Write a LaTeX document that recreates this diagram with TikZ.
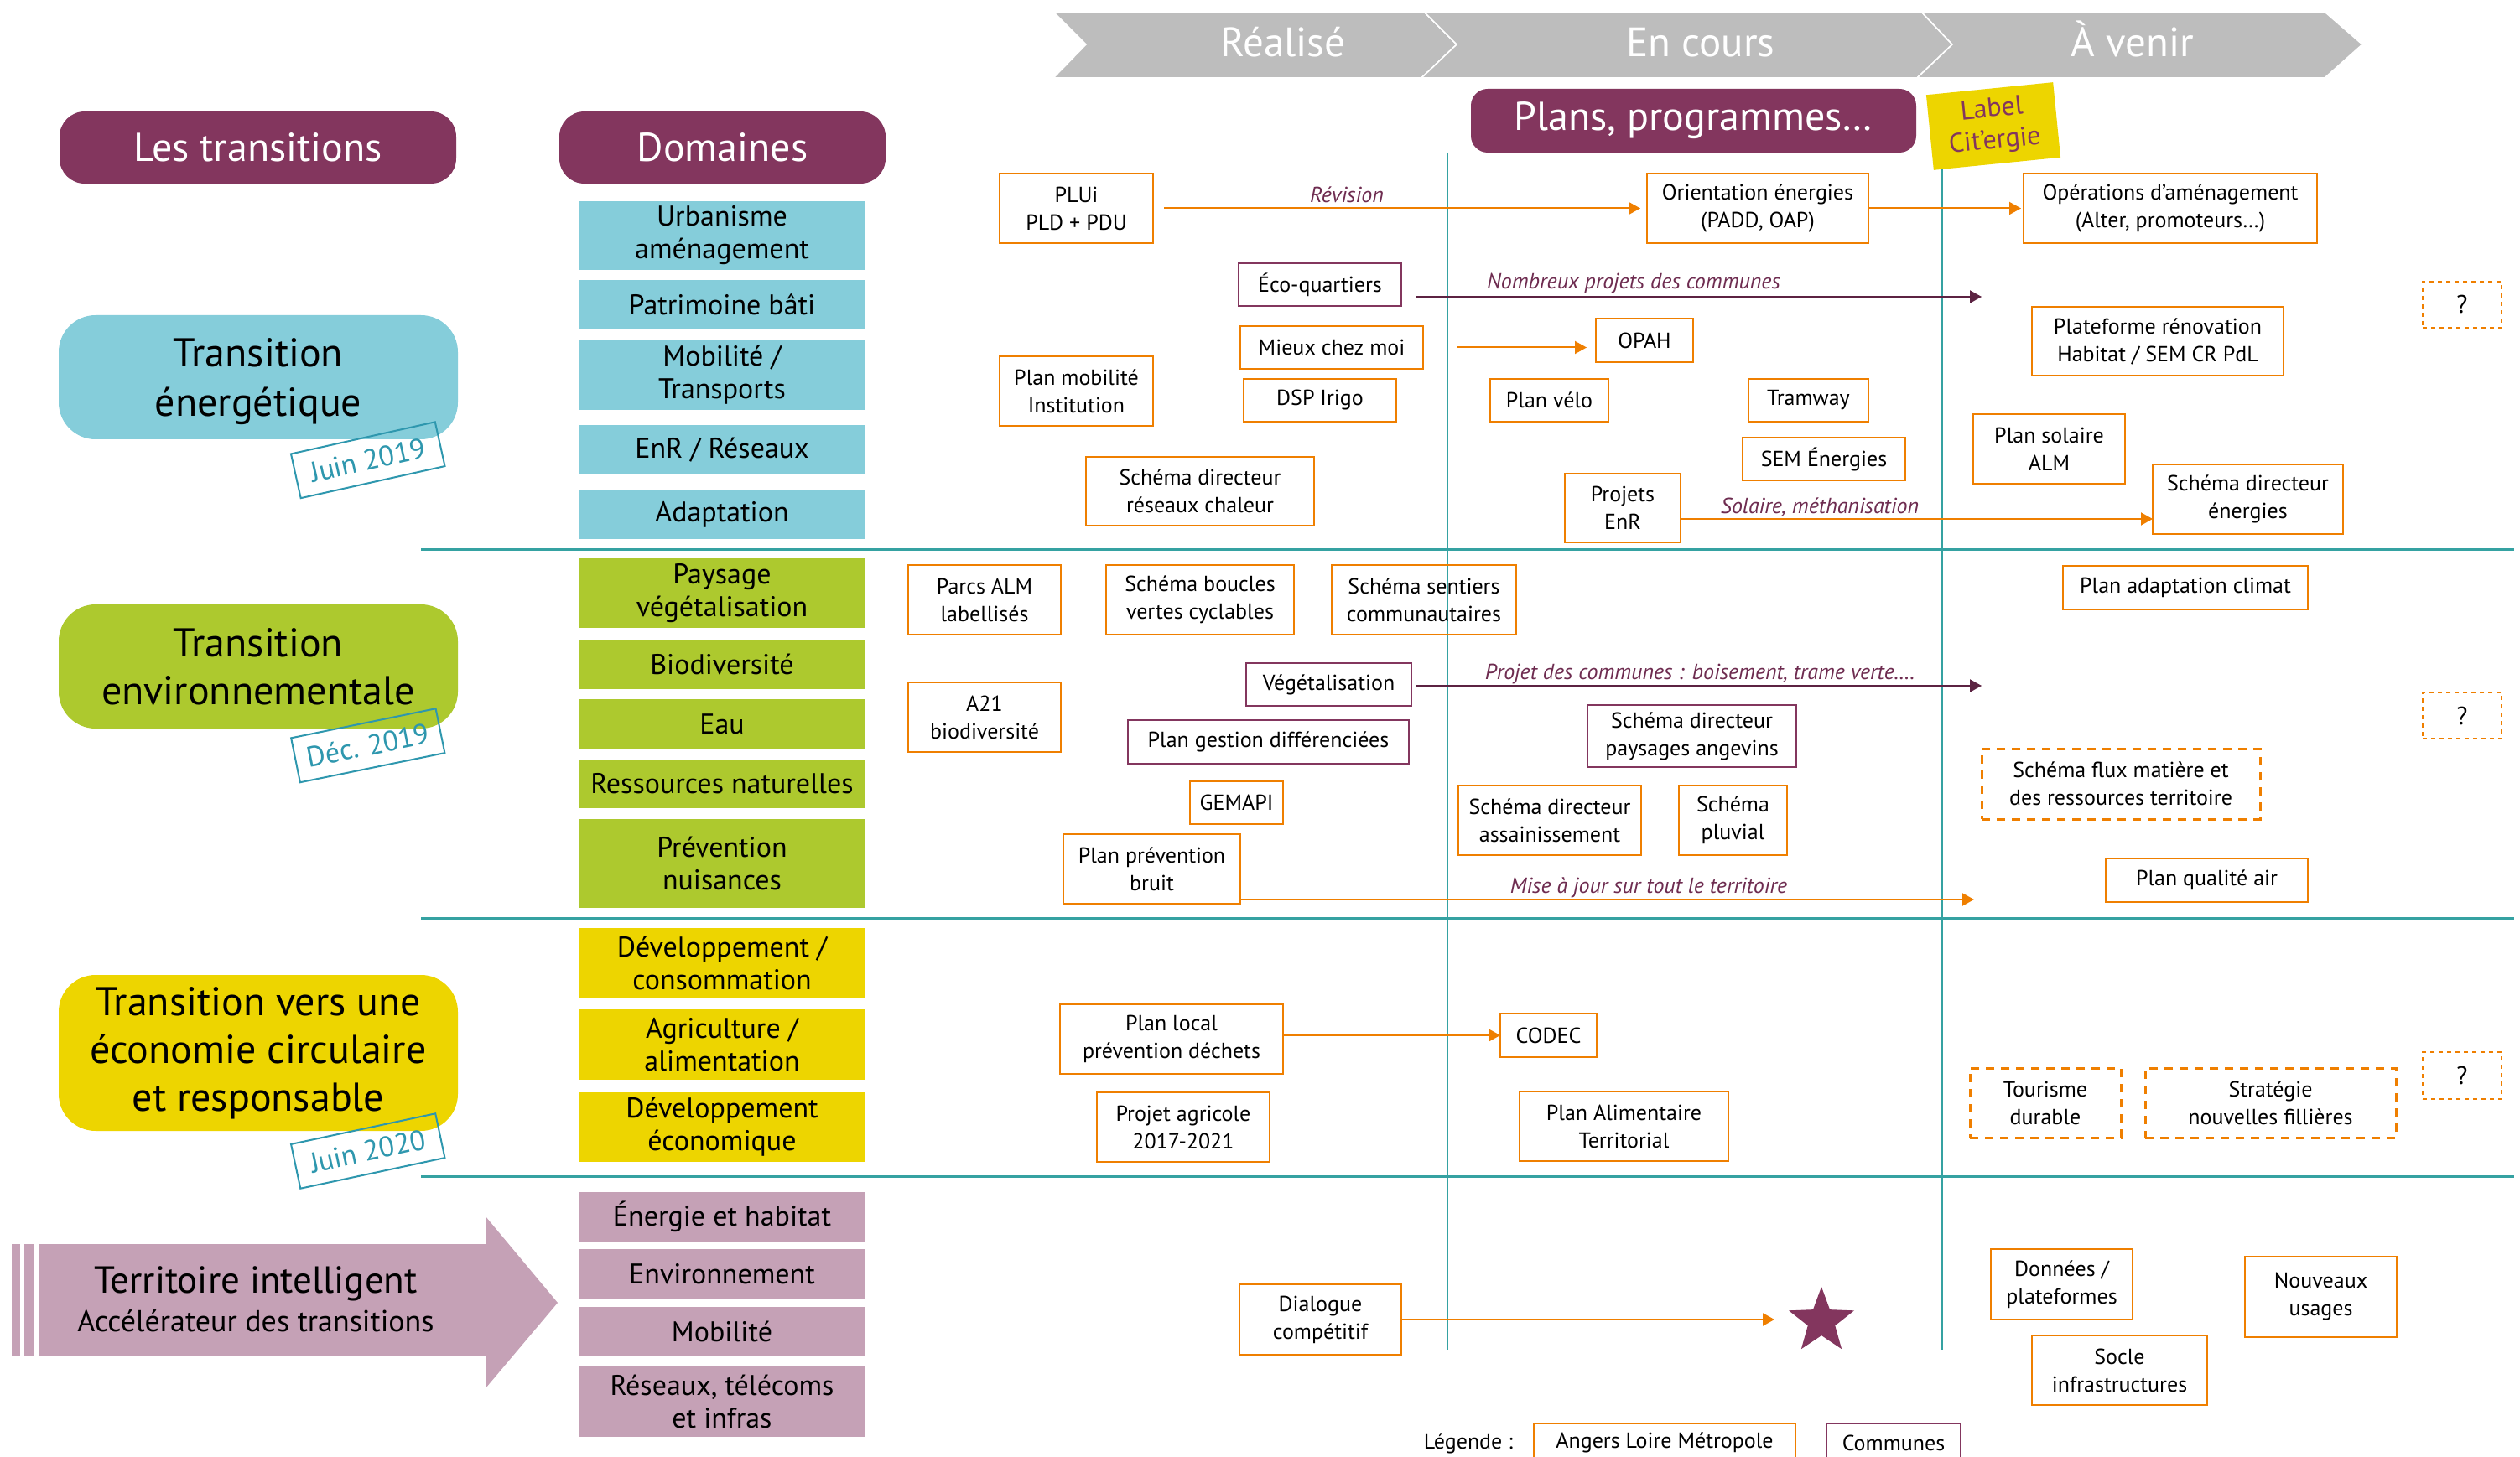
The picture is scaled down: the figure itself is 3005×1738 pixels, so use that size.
\documentclass[tikz,border=0pt]{standalone}
\usepackage{fontspec}
\setmainfont{PT Sans}
\usetikzlibrary{arrows.meta,shapes.geometric}
\definecolor{orng}{HTML}{EF7F00}
\definecolor{purp}{HTML}{83365E}
\definecolor{dpurp}{HTML}{5C2342}
\definecolor{lbl}{HTML}{6E2C50}
\definecolor{tealf}{HTML}{85CDDA}
\definecolor{greenf}{HTML}{ADC92E}
\definecolor{yellf}{HTML}{EDD500}
\definecolor{pinkf}{HTML}{C5A1B6}
\definecolor{tline}{HTML}{35A2A2}
\definecolor{stampc}{HTML}{2E97AE}
\definecolor{chev}{HTML}{BDBDBD}
\newcommand\bxfont{\fontsize{13}{16.5}\selectfont}
\newcommand\domfont{\fontsize{17}{19.5}\selectfont}
\newcommand\bigfont{\fontsize{24}{28.5}\selectfont}
\newcommand\bx[7]{\node[#6,minimum width={(#4-#2)*0.5pt},minimum height={(#5-#3)*0.5pt}] (#1) at ({(#2+#4)/2},{(#3+#5)/2}) {#7};}
\begin{document}
\begin{tikzpicture}[x=0.5pt,y=-0.5pt,
 every node/.style={inner sep=0pt, outer sep=0pt, align=center},
 obox/.style={draw=orng, line width=1.4pt, font=\bxfont},
 pbox/.style={draw=purp, line width=1pt, font=\bxfont},
 dbox/.style={draw=orng, line width=1.5pt, dash pattern=on 5pt off 4pt, font=\bxfont},
 qbox/.style={draw=orng, line width=0.8pt, dash pattern=on 2.5pt off 2.5pt, font=\fontsize{15}{18}\selectfont},
 dom/.style={fill=#1, font=\domfont},
 hdr/.style={fill=purp, rounded corners=15pt, text=white, font=\bigfont},
 trans/.style={fill=#1, rounded corners=22pt, font=\bigfont},
 stamp/.style={draw=stampc, line width=1pt, text=stampc, font=\fontsize{17}{20}\selectfont, minimum width=88pt, minimum height=27pt},
 oarr/.style={draw=orng, line width=1pt, -{Triangle[length=7pt,width=7.5pt]}},
 parr/.style={draw=dpurp, line width=1pt, -{Triangle[length=7pt,width=7.5pt]}},
 lab/.style={text=lbl, font=\bxfont\itshape, anchor=base},
 tl/.style={draw=tline, line width=1.5pt},
 chevlab/.style={text=white, font=\fontsize{24.5}{28}\selectfont, anchor=base},
]
\useasboundingbox (0,0) rectangle (3005,1738);
\fill[white] (0,0) rectangle (3005,1738);
% chevrons
\filldraw[fill=chev, draw=white, line width=0.8pt] (1256,14) -- (1698,14) -- (1737,53) -- (1695,93) -- (1256,93) -- (1295,53) -- cycle;
\filldraw[fill=chev, draw=white, line width=0.8pt] (1698,14) -- (2291,14) -- (2328,53) -- (2286,93) -- (1695,93) -- (1737,53) -- cycle;
\filldraw[fill=chev, draw=white, line width=0.8pt] (2291,14) -- (2772,14) -- (2817,53) -- (2772,93) -- (2286,93) -- (2328,53) -- cycle;
\node[chevlab] (c1) at (1530,68) {Réalisé};
\node[chevlab] (c2) at (2028,68) {En cours};
\node[chevlab] (c3) at (2543,68) {À venir};
% headers
\bx{hl}{71}{133}{544}{219}{hdr}{Les transitions}
\bx{hd}{667}{133}{1056}{219}{hdr}{Domaines}
\bx{pp}{1754}{106}{2285}{182}{hdr, rounded corners=10pt}{Plans, programmes…}
% grid lines
\draw[tl] (502,655) -- (2998,655);
\draw[tl] (502,1095) -- (2998,1095);
\draw[tl] (502,1403) -- (2998,1403);
\draw[draw=tline, line width=1pt] (1726,182) -- (1726,1610);
\draw[draw=tline, line width=1pt] (2316,200) -- (2316,1610);
\node[fill=yellf, rotate=5.7, minimum width=76pt, minimum height=45pt, text=purp, font=\fontsize{16}{19}\selectfont] (cit) at (2377,150.5) {Label\\Cit’ergie};
% transitions
\bx{te}{70}{376}{546}{524}{trans=tealf, text depth=0pt}{Transition\\[1pt]énergétique}
\bx{tv}{70}{721}{546}{869}{trans=greenf}{Transition\\environnementale}
\bx{tc}{70}{1163}{546}{1349}{trans=yellf}{\rule{0pt}{6pt}Transition vers une\\économie circulaire\\et responsable}
\node[stamp, rotate=12.5] (s1) at (438.75,548.75) {Juin 2019};
\node[stamp, rotate=11.5] (s2) at (438.75,889.25) {Déc. 2019};
\node[stamp, rotate=12] (s3) at (438.75,1373) {Juin 2020};
% territoire intelligent
\fill[pinkf] (14,1484) rectangle (24,1617);
\fill[pinkf] (29,1484) rectangle (40,1617);
\fill[pinkf] (46,1484) -- (579,1484) -- (579,1451) -- (665,1554) -- (579,1656) -- (579,1617) -- (46,1617) -- cycle;
\node[anchor=base, font=\fontsize{22.5}{26}\selectfont] (ti1) at (305,1542) {Territoire intelligent};
\node[anchor=base, font=\fontsize{18}{22}\selectfont] (ti2) at (305,1588) {Accélérateur des transitions};
% domains
\bx{d1}{690}{240}{1032}{322}{dom=tealf}{Urbanisme\\aménagement}
\bx{d2}{690}{334}{1032}{393}{dom=tealf}{Patrimoine bâti}
\bx{d3}{690}{406}{1032}{489}{dom=tealf}{Mobilité /\\Transports}
\bx{d4}{690}{507}{1032}{566}{dom=tealf}{EnR / Réseaux}
\bx{d5}{690}{584}{1032}{643}{dom=tealf}{Adaptation}
\bx{d6}{690}{666}{1032}{749}{dom=greenf}{Paysage\\végétalisation}
\bx{d7}{690}{763}{1032}{822}{dom=greenf}{Biodiversité}
\bx{d8}{690}{834}{1032}{893}{dom=greenf}{Eau}
\bx{d9}{690}{906}{1032}{964}{dom=greenf}{Ressources naturelles}
\bx{d10}{690}{977}{1032}{1083}{dom=greenf}{Prévention\\nuisances}
\bx{d11}{690}{1107}{1032}{1191}{dom=yellf}{Développement /\\consommation}
\bx{d12}{690}{1204}{1032}{1288}{dom=yellf}{Agriculture /\\alimentation}
\bx{d13}{690}{1303}{1032}{1386}{dom=yellf}{Développement\\économique}
\bx{d14}{690}{1422}{1032}{1481}{dom=pinkf}{Énergie et habitat}
\bx{d15}{690}{1490}{1032}{1549}{dom=pinkf}{Environnement}
\bx{d16}{690}{1559}{1032}{1618}{dom=pinkf}{Mobilité}
\bx{d17}{690}{1630}{1032}{1714}{dom=pinkf}{Réseaux, télécoms\\et infras}
% energy row boxes
\bx{plui}{1192}{207}{1375}{290}{obox}{PLUi\\PLD + PDU}
\bx{orient}{1964}{207}{2228}{290}{obox}{Orientation énergies\\(PADD, OAP)}
\bx{oper}{2413}{207}{2763}{290}{obox}{Opérations d’aménagement\\(Alter, promoteurs…)}
\bx{eco}{1477}{314}{1671}{365}{pbox}{Éco-quartiers}
\bx{mieux}{1479}{389}{1697}{440}{obox}{Mieux chez moi}
\bx{opah}{1903}{380}{2019}{432}{obox}{OPAH}
\bx{pmob}{1192}{425}{1375}{508}{obox}{Plan mobilité\\Institution}
\bx{dsp}{1483}{452}{1665}{503}{obox}{DSP Irigo}
\bx{velo}{1777}{452}{1918}{503}{obox}{Plan vélo}
\bx{tram}{2085}{452}{2228}{503}{obox}{Tramway}
\bx{sem}{2078}{522}{2272}{573}{obox}{SEM Énergies}
\bx{plat}{2423}{366}{2723}{448}{obox}{Plateforme rénovation\\Habitat / SEM CR PdL}
\bx{psol}{2353}{494}{2534}{577}{obox}{Plan solaire\\ALM}
\bx{sdrc}{1295}{545}{1567}{627}{obox}{Schéma directeur\\réseaux chaleur}
\bx{enr}{1866}{565}{2004}{647}{obox}{Projets\\EnR}
\bx{sde}{2567}{554}{2794}{637}{obox}{Schéma directeur\\énergies}
\bx{q1}{2889}{336}{2983}{391}{qbox}{?}
% environment row boxes
\bx{parcs}{1083}{674}{1265}{757}{obox}{Parcs ALM\\labellisés}
\bx{boucl}{1319}{674}{1543}{757}{obox}{Schéma boucles\\vertes cyclables}
\bx{sent}{1588}{674}{1808}{757}{obox}{Schéma sentiers\\communautaires}
\bx{padapt}{2460}{675}{2752}{727}{obox}{Plan adaptation climat}
\bx{veg}{1486}{791}{1683}{842}{pbox}{Végétalisation}
\bx{a21}{1083}{814}{1265}{897}{obox}{A21\\biodiversité}
\bx{pgest}{1345}{859}{1680}{911}{pbox}{Plan gestion différenciées}
\bx{sdpa}{1893}{841}{2142}{915}{pbox}{Schéma directeur\\paysages angevins}
\bx{q2}{2889}{826}{2983}{881}{qbox}{?}
\bx{flux}{2363}{893}{2695}{977}{dbox}{Schéma flux matière et\\des ressources territoire}
\bx{gemapi}{1419}{932}{1530}{983}{obox}{GEMAPI}
\bx{sdas}{1739}{937}{1957}{1020}{obox}{Schéma directeur\\assainissement}
\bx{pluv}{2002}{937}{2131}{1020}{obox}{Schéma\\pluvial}
\bx{bruit}{1268}{995}{1479}{1078}{obox}{Plan prévention\\bruit}
\bx{pqa}{2511}{1024}{2752}{1076}{obox}{Plan qualité air}
% economy row
\bx{pld}{1264}{1198}{1530}{1281}{obox}{Plan local\\prévention déchets}
\bx{codec}{1789}{1209}{1904}{1261}{obox}{CODEC}
\bx{pagri}{1308}{1303}{1514}{1386}{obox}{Projet agricole\\2017-2021}
\bx{pat}{1812}{1302}{2061}{1385}{obox}{Plan Alimentaire\\Territorial}
\bx{tour}{2349}{1274}{2529}{1357}{dbox}{Tourisme\\durable}
\bx{strat}{2558}{1274}{2857}{1357}{dbox}{Stratégie\\nouvelles fillières}
\bx{q3}{2889}{1255}{2983}{1311}{qbox}{?}
% smart territory row
\bx{dial}{1478}{1532}{1671}{1616}{obox}{Dialogue\\compétitif}
\node[star, star points=5, star point ratio=2.4, fill=purp, minimum size=41pt] (star) at (2172,1576) {};
\bx{donn}{2374}{1490}{2543}{1574}{obox}{Données /\\plateformes}
\bx{nouv}{2677}{1499}{2858}{1595}{obox}{Nouveaux\\usages}
\bx{socle}{2423}{1593}{2632}{1676}{obox}{Socle\\infrastructures}
% legend
\node[font=\bxfont, anchor=base] (leg) at (1751,1728) {Légende :};
\bx{lalm}{1829}{1698}{2141}{1744}{obox}{Angers Loire Métropole}
\bx{lcom}{2178}{1698}{2338}{1744}{pbox}{Communes}
% connectors
\coordinate (e1) at (2363,354);
\coordinate (e2) at (2363,818);
\coordinate (y3) at (0,619);
\coordinate (e4) at (2354,1073);
\coordinate (e5) at (2116,1574);
\draw[oarr, shorten <=6.5pt, shorten >=4pt] (plui.east) -- (orient.west);
\draw[oarr, shorten >=1.5pt] (orient.east) -- (oper.west);
\draw[parr, shorten <=8.5pt] (eco.east |- e1) -- (e1);
\draw[oarr, shorten <=20pt, shorten >=5.5pt] (mieux.east) -- (mieux.east -| opah.west);
\draw[oarr] (enr.east |- y3) -- (sde.west |- y3);
\draw[parr, shorten <=3pt] (veg.east |- e2) -- (e2);
\draw[oarr] (bruit.east |- e4) -- (e4);
\draw[oarr] (pld.east |- codec.west) -- (codec.west);
\draw[oarr] (dial.east |- e5) -- (e5);
% arrow labels
\node[lab] (l1) at (1606,242) {Révision};
\node[lab] (l2) at (1948,345) {Nombreux projets des communes};
\node[lab] (l3) at (2170,612) {Solaire, méthanisation};
\node[lab] (l4) at (2027,810) {Projet des communes : boisement, trame verte….};
\node[lab] (l5) at (1966,1065) {Mise à jour sur tout le territoire};
\end{tikzpicture}
\end{document}
